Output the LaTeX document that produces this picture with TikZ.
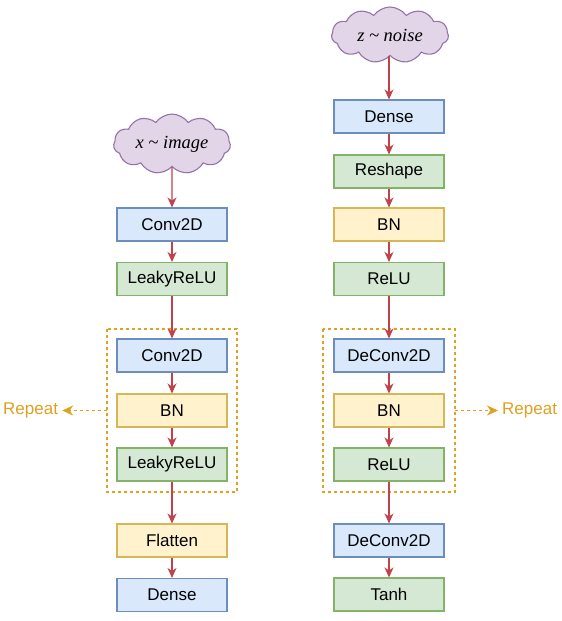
\documentclass[tikz,border=0pt]{standalone}
\usepackage{fontspec}
\setmainfont{Liberation Sans}
\newfontfamily\cloudfont{Liberation Serif}
\usetikzlibrary{shapes.symbols,arrows.meta}
\definecolor{bfill}{HTML}{DAE8FC}\definecolor{bdraw}{HTML}{6C8EBF}
\definecolor{gfill}{HTML}{D5E8D4}\definecolor{gdraw}{HTML}{82B366}
\definecolor{yfill}{HTML}{FFF2CC}\definecolor{ydraw}{HTML}{D6B656}
\definecolor{pfill}{HTML}{E1D5E7}\definecolor{pdraw}{HTML}{9673A6}
\definecolor{arr}{HTML}{C0424A}
\definecolor{rep}{HTML}{E0A020}
\tikzset{
  layer/.style={draw, line width=1.1pt, minimum width=110pt, minimum height=33pt, inner sep=0pt, font=\fontsize{17}{19}\selectfont},
  blue/.style={layer, fill=bfill, draw=bdraw},
  green/.style={layer, fill=gfill, draw=gdraw},
  yellow/.style={layer, fill=yfill, draw=ydraw},
  cloudy/.style={cloud, cloud puffs=11, cloud puff arc=110, aspect=2.2, draw=pdraw, fill=pfill, line width=1.1pt, minimum width=117pt, minimum height=56pt, inner sep=0pt, font=\cloudfont\itshape\fontsize{18.5}{20}\selectfont},
  flow/.style={draw=arr, line width=1.1pt, -{Stealth[length=10pt,width=9pt,inset=3pt]}},
  repbox/.style={draw=rep, line width=1.4pt, dash pattern=on 3pt off 3pt},
  repflow/.style={draw=rep, line width=1.4pt, dash pattern=on 3pt off 3pt, -{Stealth[length=11pt,width=10pt,inset=3.5pt,sep=0pt]}},
  reptext/.style={text=rep, font=\fontsize{17}{19}\selectfont, inner sep=0pt}
}
\begin{document}
\begin{tikzpicture}[x=1pt,y=-1pt]
\useasboundingbox (0,0) rectangle (562,621);
% left column
\node[cloudy] (cx) at (172,144) {x \textasciitilde{} image};
\node[blue] (l1) at (172,224.5) {Conv2D};
\node[green] (l2) at (172,279) {LeakyReLU};
\node[blue] (l3) at (172,355.5) {Conv2D};
\node[yellow] (l4) at (172,410.5) {BN};
\node[green] (l5) at (172,464.5) {LeakyReLU};
\node[yellow] (l6) at (172,540.5) {Flatten};
\node[blue] (l7) at (172,595) {Dense};
\draw[repbox] (107,329) rectangle (237,492);
\coordinate (lrep) at (107,410.5);
\node[reptext, anchor=west] (lrt) at (3,410.5) {Repeat};
\draw[repflow] (lrep) -- ([xshift=4pt]lrt.east);
% right column
\node[cloudy] (cz) at (390,35) {z \textasciitilde{} noise};
\node[blue] (r1) at (389,116.5) {Dense};
\node[green] (r2) at (389,171.5) {Reshape};
\node[yellow] (r3) at (389,224.5) {BN};
\node[green] (r4) at (389,279) {ReLU};
\node[blue] (r5) at (389,355.5) {DeConv2D};
\node[yellow] (r6) at (389,410.5) {BN};
\node[green] (r7) at (389,464.5) {ReLU};
\node[blue] (r8) at (389,540.5) {DeConv2D};
\node[green] (r9) at (389,594.5) {Tanh};
\draw[repbox] (323,329) rectangle (455,492);
\coordinate (rrep) at (455,410.5);
\node[reptext, anchor=west] (rrt) at (502,410.5) {Repeat};
% arrows
\draw[flow] (cx) -- (l1);
\draw[flow] (l1) -- (l2);
\draw[flow] (l2) -- (l3);
\draw[flow] (l3) -- (l4);
\draw[flow] (l4) -- (l5);
\draw[flow] (l5) -- (l6);
\draw[flow] (l6) -- (l7);
\draw[flow] (cz.south -| r1) -- (r1);
\draw[flow] (r1) -- (r2);
\draw[flow] (r2) -- (r3);
\draw[flow] (r3) -- (r4);
\draw[flow] (r4) -- (r5);
\draw[flow] (r5) -- (r6);
\draw[flow] (r6) -- (r7);
\draw[flow] (r7) -- (r8);
\draw[flow] (r8) -- (r9);
\draw[repflow] (rrep) -- ([xshift=-4pt]rrt.west);
\end{tikzpicture}
\end{document}
